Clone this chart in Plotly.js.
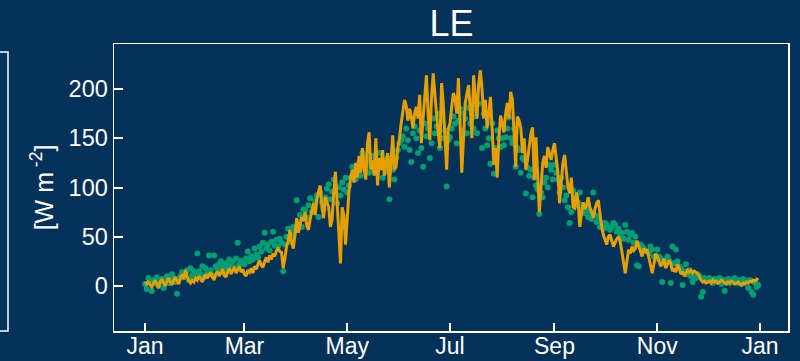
<!DOCTYPE html>
<html>
<head>
<meta charset="utf-8">
<script src="https://cdn.plot.ly/plotly-3.0.1.min.js"></script>
<style>
  html, body { margin: 0; padding: 0; background: #033157; }
  #chart { width: 800px; height: 361px; }
</style>
</head>
<body>
<div id="chart"></div>
<script>
// Daily latent heat flux (LE, W m-2), one value per day of the year, month by month.
const modelJan = [4,2,5,1,-1,3,6,2,-2,4,7,3,0,5,8,4,1,6,9,5,2,8,12,7,16,10,5,3,6,4,8];
const modelFeb = [6,10,7,4,9,12,8,11,14,9,6,12,15,10,13,17,11,9,14,18,12,15,19,13,16,20,14,17];
const modelMar = [12,10,16,14,18,13,20,17,22,26,21,19,25,29,24,31,27,33,30,36,38,35,34,18,28,40,46,57,44,38,52];
const modelApr = [69,54,62,70,66,75,61,57,68,77,84,72,88,96,102,80,69,90,85,80,60,67,95,116,85,50,23,80,72,42];
const modelMay = [70,95,110,118,105,125,110,132,115,140,120,108,145,156,118,128,112,150,102,130,118,138,112,125,135,100,128,153,118,121,140];
const modelJun = [150,165,178,189,183,168,180,172,160,175,182,170,194,145,170,190,214,175,148,190,216,195,172,155,140,206,185,150,118,160];
const modelJul = [165,182,196,190,175,211,160,115,150,185,195,204,180,150,214,190,170,205,219,200,170,189,160,175,192,160,123,140,110,150,173];
const modelAug = [165,156,175,186,170,197,190,161,121,172,168,161,135,150,118,128,145,155,161,108,151,110,75,100,125,132,120,141,135,128,138];
const modelSep = [145,130,115,84,110,125,133,118,100,94,110,80,79,95,85,60,72,85,78,82,90,80,75,69,78,84,87,72,60,52];
const modelOct = [47,42,50,52,46,40,44,48,50,45,35,22,13,25,37,33,40,36,38,46,40,35,30,38,35,37,28,20,13,22,33];
const modelNov = [30,25,20,23,28,18,22,26,23,15,18,14,22,18,12,15,10,13,16,14,16,13,15,14,12,10,6,4,5,3];
const modelDec = [4,5,3,6,4,5,3,4,6,5,3,2,4,3,5,4,2,3,4,2,1,3,2,4,3,5,4,6,5,7,6];

const obsJan = [2,-3,8,5,-5,6,3,9,0,4,7,-2,5,10,3,6,12,8,4,-8,7,10,14,9,12,16,6,18,11,15,13];
const obsFeb = [33,15,12,20,9,18,14,31,16,11,31,20,17,22,25,19,14,23,18,27,21,25,19,28,44,22,26,24];
const obsMar = [22,28,35,25,30,27,38,32,29,40,35,44,54,38,42,36,45,55,41,47,40,48,44,15,42,50,58,45,52,60,56];
const obsApr = [87,65,72,60,78,77,70,82,89,75,80,86,92,70,95,85,78,90,99,103,88,96,108,94,84,100,92,105,98,110];
const obsMay = [95,102,110,121,115,108,118,125,112,135,131,120,128,115,124,132,118,127,122,135,120,110,128,116,130,88,124,118,108,130,138];
const obsJun = [145,148,152,141,160,148,138,126,155,162,150,135,158,140,121,165,152,160,130,145,170,155,162,175,140,168,150,158,101,148];
const obsJul = [151,160,172,165,145,168,180,158,175,170,155,181,165,178,160,172,155,185,204,140,175,160,143,150,124,165,114,140,158,150,141];
const obsAug = [150,143,151,160,171,150,145,160,121,140,138,115,130,128,94,120,112,118,90,110,102,98,73,95,90,105,110,100,123,118,108];
const obsSep = [123,115,108,95,110,100,87,92,80,64,75,97,82,90,85,95,78,82,74,80,70,76,68,95,72,65,70,60,64,58];
const obsOct = [64,62,59,57,60,64,62,55,58,50,54,48,62,55,47,52,54,44,50,21,20,42,40,38,36,35,33,40,37,30,28];
const obsNov = [37,30,28,4,25,22,30,26,3,40,23,37,25,20,18,1,15,22,12,16,10,4,9,8,12,10,-11,-6,8,5];
const obsDec = [5,8,6,3,7,5,4,8,2,6,-5,5,7,3,6,4,8,5,3,6,2,7,4,5,-2,6,-6,-9,3,-1,1];

const tickDates = ['2021-01-01','2021-03-01','2021-05-01','2021-07-01','2021-09-01','2021-11-01','2022-01-01'];
const tickLabels = ['Jan','Mar','May','Jul','Sep','Nov','Jan'];
const yTicks = [0, 50, 100, 150, 200];

const modelLE = [].concat(modelJan, modelFeb, modelMar, modelApr, modelMay, modelJun,
                          modelJul, modelAug, modelSep, modelOct, modelNov, modelDec);
const obsLE = [].concat(obsJan, obsFeb, obsMar, obsApr, obsMay, obsJun,
                        obsJul, obsAug, obsSep, obsOct, obsNov, obsDec);

// one calendar date per daily value
const days = [];
const start = Date.UTC(2021, 0, 1);
for (let i = 0; i < modelLE.length; i++) {
  days.push(new Date(start + i * 86400000).toISOString().slice(0, 10));
}

const bg = '#033157';
const fg = '#ffffff';
const font = 'Liberation Sans, Arial, sans-serif';

const traces = [
  {
    x: days, y: obsLE, type: 'scatter', mode: 'markers',
    marker: { color: '#009E73', size: 6 },
    hoverinfo: 'skip', showlegend: false
  },
  {
    x: days, y: modelLE, type: 'scatter', mode: 'lines',
    line: { color: '#E69F00', width: 3 },
    hoverinfo: 'skip', showlegend: false
  }
];

// neighbouring panel frame on the left edge
const pw = 674, ph = 287;
const lx = (8 - 114) / pw, ltop = (331 - 52) / ph;
const leftFrame = {
  type: 'path', xref: 'paper', yref: 'paper',
  path: `M ${-0.25},${ltop} L ${lx},${ltop} L ${lx},0 L ${-0.25},0`,
  line: { color: fg, width: 1.5 }
};

const layout = {
  width: 800, height: 361,
  paper_bgcolor: bg, plot_bgcolor: bg,
  margin: { l: 114, r: 12, t: 44, b: 30 },
  font: { family: font, color: fg, size: 23 },
  title: {
    text: 'LE', font: { family: font, size: 36, color: fg },
    x: 0.5645, xanchor: 'center', y: 0.935, yanchor: 'middle', yref: 'container'
  },
  xaxis: {
    type: 'date',
    range: ['2020-12-13 14:00', '2022-01-17 14:00'],
    tickvals: tickDates, ticktext: tickLabels,
    ticks: 'inside', ticklen: 8, tickwidth: 2, tickcolor: fg,
    ticklabelstandoff: -6,
    showline: true, linecolor: fg, linewidth: 1.5, mirror: true,
    showgrid: false, zeroline: false,
    tickfont: { family: font, size: 23, color: fg }
  },
  yaxis: {
    range: [-45.7, 245.7],
    tickvals: yTicks,
    ticks: 'inside', ticklen: 9, tickwidth: 2, tickcolor: fg,
    showline: true, linecolor: fg, linewidth: 1.5, mirror: true,
    showgrid: false, zeroline: false,
    tickfont: { family: font, size: 23.5, color: fg },
    title: { text: '[W m<sup> -2</sup>]', font: { family: font, size: 25, color: fg }, standoff: 8 }
  },
  shapes: [leftFrame]
};

Plotly.newPlot('chart', traces, layout, { staticPlot: true, displayModeBar: false });
</script>
</body>
</html>
